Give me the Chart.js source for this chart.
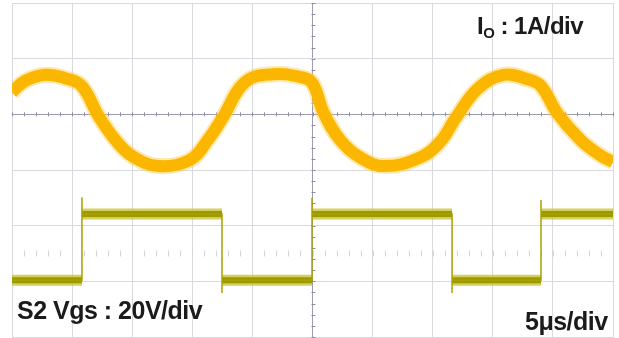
<!DOCTYPE html>
<html>
<head>
<meta charset="utf-8">
<script src="https://cdn.jsdelivr.net/npm/chart.js@4/dist/chart.umd.min.js"></script>
<style>
  html, body { margin: 0; padding: 0; background: #fff; }
  #wrap { position: relative; width: 619px; height: 338px; }
  .lbl {
    position: absolute;
    font-family: "Liberation Sans", Arial, sans-serif;
    font-weight: bold;
    color: #1b1b1b;
    line-height: 1;
    white-space: nowrap;
    letter-spacing: -0.5px;
  }
  .lbl sub { font-size: 0.62em; vertical-align: -0.25em; }
</style>
</head>
<body>
<div id="wrap">
  <canvas id="scope" width="619" height="338"></canvas>
  <div class="lbl" style="left:477px; top:14px; font-size:24px;">I<sub>O</sub> : 1A/div</div>
  <div class="lbl" style="left:17px; top:298px; font-size:25px;">S2 Vgs : 20V/div</div>
  <div class="lbl" style="left:525px; top:309px; font-size:25px;">5μs/div</div>
</div>
<script>
// time in μs (5 μs/div, 10 div), amplitude in screen divisions (0..6 from bottom)
const currentTime = [0, 1.1, 2.8, 4.4, 5.8, 7.2, 8.6, 10.0, 12.2, 14.8, 16.3, 17.5, 19.4, 21.7, 24.0, 25.0, 25.9, 27.3, 29.0, 31.0, 33.9, 35.6, 36.9, 38.8, 40.9, 42.9, 44.0, 45.4, 47.3, 48.9, 50.0];
const currentDiv = [4.40, 4.60, 4.71, 4.65, 4.51, 3.97, 3.54, 3.25, 3.07, 3.18, 3.54, 3.93, 4.58, 4.72, 4.67, 4.56, 4.04, 3.54, 3.22, 3.07, 3.22, 3.50, 3.93, 4.47, 4.71, 4.63, 4.51, 4.01, 3.54, 3.27, 3.14];

// gate signal: switching instants (μs) and levels (div)
const edgeTimes = [5.82, 17.47, 24.96, 36.61, 44.01];
const vgsHigh = 2.21;
const vgsLow = 1.02;
const spikeHigh = [2.51, 2.50, 2.46];   // overshoot at rising edges
const spikeLow = [0.79, 0.79];          // undershoot at falling edges

const xTicks = [0, 5, 10, 15, 20, 25, 30, 35, 40, 45, 50];
const yTicks = [0, 1, 2, 3, 4, 5, 6];

const currentPts = currentTime.map((t, i) => ({ x: t, y: currentDiv[i] }));

// thin trace with edges and spikes
const gatePts = [{ x: 0, y: vgsLow }];
let level = vgsLow, ri = 0, fi = 0;
edgeTimes.forEach((t) => {
  gatePts.push({ x: t, y: level });
  if (level === vgsLow) {
    gatePts.push({ x: t, y: spikeHigh[ri++] });
    level = vgsHigh;
  } else {
    gatePts.push({ x: t, y: spikeLow[fi++] });
    level = vgsLow;
  }
  gatePts.push({ x: t, y: level });
});
gatePts.push({ x: 50, y: level });

// thick noisy bands for flat levels only
const bandPts = [];
let start = 0;
level = vgsLow;
edgeTimes.concat([50]).forEach((t) => {
  bandPts.push({ x: start, y: level }, { x: t, y: level }, { x: t, y: null });
  level = level === vgsLow ? vgsHigh : vgsLow;
  start = t;
});

const minorTicks = {
  id: "minorTicks",
  beforeDatasetsDraw(chart) {
    const { ctx, scales: { x, y } } = chart;
    ctx.save();
    ctx.lineWidth = 1;
    // ticks on horizontal centre line
    ctx.strokeStyle = "#8c8ca6";
    const yc = y.getPixelForValue(4);
    for (let t = 0; t <= 50; t += 1) {
      const px = Math.round(x.getPixelForValue(t)) + 0.5;
      ctx.beginPath(); ctx.moveTo(px, yc - 2); ctx.lineTo(px, yc + 2); ctx.stroke();
    }
    // ticks on vertical centre line
    const xc = Math.round(x.getPixelForValue(25)) + 0.5;
    for (let v = 0; v <= 6.001; v += 0.2) {
      const py = Math.round(y.getPixelForValue(v)) + 0.5;
      ctx.beginPath(); ctx.moveTo(xc - 2, py); ctx.lineTo(xc + 2, py); ctx.stroke();
    }
    // reference dotted row of channel 2
    ctx.strokeStyle = "#d4d4dc";
    const yr = y.getPixelForValue(1.5);
    for (let t = 1; t < 50; t += 1) {
      const px = Math.round(x.getPixelForValue(t)) + 0.5;
      ctx.beginPath(); ctx.moveTo(px, yr - 3); ctx.lineTo(px, yr + 3); ctx.stroke();
    }
    ctx.restore();
  },
};

const gridColor = (ctx, centre) =>
  ctx.tick && ctx.tick.value === centre ? "#9c9cb0" : "#d9d9e0";

new Chart(document.getElementById("scope").getContext("2d"), {
  type: "scatter",
  data: {
    datasets: [
      { data: currentPts, showLine: true, borderColor: "#fbb600", borderWidth: 12,
        tension: 0.4, pointRadius: 0 },
      { data: currentPts, showLine: true, borderColor: "rgba(253,205,70,0.45)", borderWidth: 16,
        tension: 0.4, pointRadius: 0 },
      { data: gatePts, showLine: true, borderColor: "#a7a200", borderWidth: 1.5,
        tension: 0, pointRadius: 0 },
      { data: bandPts, showLine: true, borderColor: "#9d9800", borderWidth: 6,
        tension: 0, pointRadius: 0, spanGaps: false },
      { data: bandPts, showLine: true, borderColor: "rgba(196,192,40,0.75)", borderWidth: 11,
        tension: 0, pointRadius: 0, spanGaps: false },
    ],
  },
  options: {
    responsive: false,
    animation: false,
    layout: { padding: { left: 12, right: 6, top: 3, bottom: 1 } },
    plugins: { legend: { display: false }, tooltip: { enabled: false } },
    scales: {
      x: {
        type: "linear", min: 0, max: 50,
        afterBuildTicks: (s) => { s.ticks = xTicks.map((v) => ({ value: v })); },
        ticks: { display: false },
        grid: { drawTicks: false, color: (c) => gridColor(c, 25), lineWidth: 1 },
        border: { display: true, color: "#d9d9e0" },
      },
      y: {
        type: "linear", min: 0, max: 6,
        afterBuildTicks: (s) => { s.ticks = yTicks.map((v) => ({ value: v })); },
        ticks: { display: false },
        grid: { drawTicks: false, color: (c) => gridColor(c, 4), lineWidth: 1 },
        border: { display: true, color: "#d9d9e0" },
      },
    },
  },
  plugins: [minorTicks],
});
</script>
</body>
</html>
